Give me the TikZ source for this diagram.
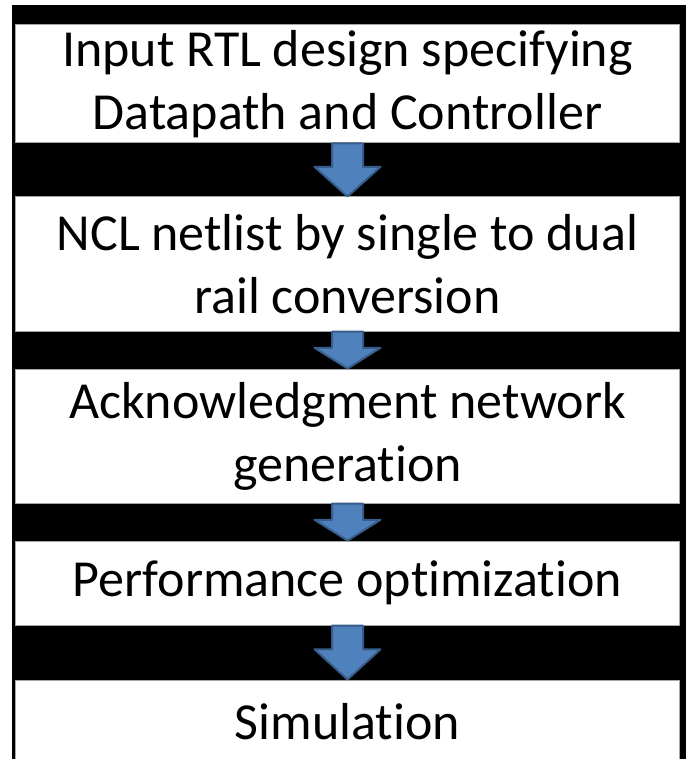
\documentclass[tikz,border=0pt]{standalone}
\usepackage{fontspec}
\setmainfont{Carlito}[Ligatures=NoCommon]
\usepackage{xcolor}
\definecolor{flowblue}{HTML}{4F81BD}
\definecolor{flowedge}{HTML}{385D8A}
\definecolor{boxgray}{HTML}{A6A6A6}
\usepackage{tikz}
\usetikzlibrary{positioning,calc}

\newcommand{\stagearrow}[2]{%
  \draw[flow] let \p1=(#1.south), \p2=(#2.north), \n1={0.56*(\y1-\y2)} in
    (\x1-7.75pt,\y1) -- (\x1+7.75pt,\y1) -- (\x1+7.75pt,\y2+\n1) -- (\x1+16.5pt,\y2+\n1)
    -- (\x1,\y2) -- (\x1-16.5pt,\y2+\n1) -- (\x1-7.75pt,\y2+\n1) -- cycle;}

\begin{document}
\begin{tikzpicture}[
  stage/.style={draw=boxgray,line width=0.5pt,fill=white,align=flush center,inner sep=0pt,
    minimum width=331.5pt,text width=331.5pt,font=\fontsize{26}{31.5}\selectfont},
  flow/.style={fill=flowblue,draw=flowedge,line width=1pt,line join=round}
]
\useasboundingbox (-173.75pt,42pt) rectangle (169.25pt,-337.5pt);
\fill[white] (-173.75pt,42pt) rectangle (169.25pt,-337.5pt);
\fill[black] (-167.75pt,39.5pt) rectangle (169.25pt,-337.5pt);
\node[stage,minimum height=59pt] (input) at (0,0) {Input RTL design specifying\\Datapath and Controller};
\node[stage,minimum height=67pt,below=26.5pt of input] (ncl) {NCL netlist by single to dual\\rail conversion};
\node[stage,minimum height=67pt,below=18.5pt of ncl] (ack) {Acknowledgment network\\generation};
\node[stage,minimum height=42pt,below=18.5pt of ack] (perf) {Performance optimization};
\node[stage,minimum height=42pt,below=27pt of perf] (sim) {Simulation};
\foreach \a/\b in {input/ncl,ncl/ack,ack/perf,perf/sim}
  \stagearrow{\a}{\b};
\end{tikzpicture}
\end{document}
